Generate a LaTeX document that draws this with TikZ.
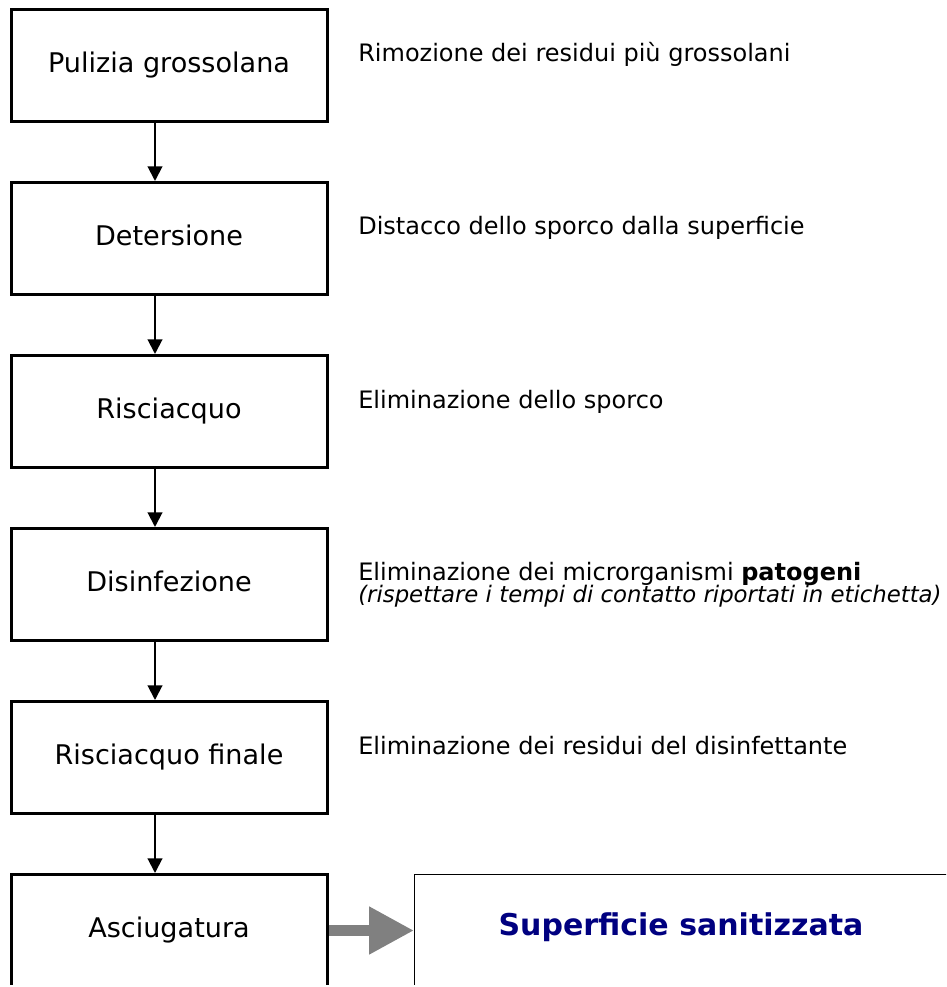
\documentclass[tikz,border=0pt]{standalone}
\usepackage{fontspec}
\setmainfont{DejaVu Sans}
\usepackage{tikz}
\usetikzlibrary{arrows.meta}

\newcommand{\notafont}{\fontsize{18}{16.2}\selectfont\lineskiplimit=-20pt\relax}

\begin{document}
\begin{tikzpicture}[x=0.75pt,y=0.75pt,yscale=-1,xscale=1,
        fase/.style={draw, line width=2.25pt, minimum width=237pt, minimum height=84pt, inner sep=0pt, text height=15.5pt, text depth=4.7pt, font=\fontsize{20.3}{24}\selectfont},
        nota/.style={anchor=base west, inner sep=0pt, align=left, font=\notafont},
        freccia/.style={line width=1.5pt, -{Triangle[length=11pt,width=11pt]}}
    ]
        \useasboundingbox (0,0) rectangle (946,987);
        \clip (0,0) rectangle (946,984);

        %Shape: Rectangle
        \node [fase] (pulizia) at (169,65.5) {Pulizia grossolana};
        %Shape: Rectangle
        \node [fase] (detersione) at (169,238.5) {Detersione};
        %Shape: Rectangle
        \node [fase] (risciacquo) at (169,411.5) {Risciacquo};
        %Shape: Rectangle
        \node [fase] (disinfezione) at (169,584.5) {Disinfezione};
        %Shape: Rectangle
        \node [fase] (finale) at (169,757.5) {Risciacquo finale};
        %Shape: Rectangle
        \node [fase] (asciugatura) at (169,930.5) {Asciugatura};
        %Shape: Rectangle
        \node [draw, line width=0.75pt, minimum width=399.75pt, minimum height=84pt, inner sep=0pt, text height=16.5pt, text depth=9.75pt, text={rgb, 255:red, 0; green, 0; blue, 128 }, font=\fontsize{22.5}{27}\selectfont\bfseries] (sanitizzata) at (681,930.5) {Superficie sanitizzata};

        %Straight Lines
        \draw [freccia] ([xshift=-10.5pt]pulizia.south) -- ([xshift=-10.5pt]detersione.north);
        \draw [freccia] ([xshift=-10.5pt]detersione.south) -- ([xshift=-10.5pt]risciacquo.north);
        \draw [freccia] ([xshift=-10.5pt]risciacquo.south) -- ([xshift=-10.5pt]disinfezione.north);
        \draw [freccia] ([xshift=-10.5pt]disinfezione.south) -- ([xshift=-10.5pt]finale.north);
        \draw [freccia] ([xshift=-10.5pt]finale.south) -- ([xshift=-10.5pt]asciugatura.north);
        %Block Arrow
        \draw [color={rgb, 255:red, 128; green, 128; blue, 128 }, line width=8.25pt, -{Triangle[length=33.75pt,width=33.75pt]}] (asciugatura.east) -- (sanitizzata.west);

        % Text Node
        \node [nota] (notapulizia) at (358,62) {Rimozione dei residui più grossolani};
        % Text Node
        \node [nota] (notadetersione) at (358,235) {Distacco dello sporco dalla superficie};
        % Text Node
        \node [nota] (notarisciacquo) at (358,408) {Eliminazione dello sporco};
        % Text Node
        \node [nota] (notadisinfezione) at (358,602) {Eliminazione dei microrganismi \textbf{patogeni}\\{\fontsize{17.1}{16.2}\selectfont\itshape (rispettare i tempi di contatto riportati in etichetta)}};
        % Text Node
        \node [nota] (notafinale) at (358,754) {Eliminazione dei residui del disinfettante};

\end{tikzpicture}
\end{document}
